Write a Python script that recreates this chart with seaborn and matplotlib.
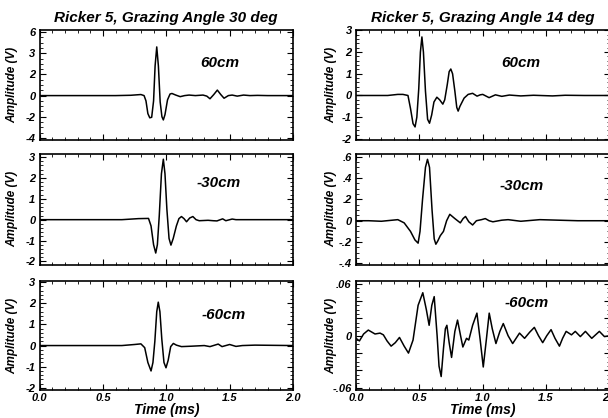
import matplotlib
matplotlib.use("Agg")
import matplotlib.pyplot as plt
from matplotlib.ticker import MultipleLocator, FixedLocator, FixedFormatter
import seaborn as sns

sns.set_style("ticks")
plt.rcParams["font.family"] = ["Liberation Sans", "DejaVu Sans"]
plt.rcParams["font.weight"] = "bold"
plt.rcParams["font.style"] = "italic"
plt.rcParams["text.color"] = "black"
plt.rcParams["axes.labelcolor"] = "black"

# ---- traces (time in ms, amplitude in V) ----
t_30_60 = [0.0, 0.60, 0.72, 0.80, 0.825, 0.84, 0.855, 0.87, 0.885, 0.90, 0.912, 0.925, 0.938,
           0.952, 0.966, 0.977, 0.99, 1.01, 1.03, 1.045, 1.075, 1.11, 1.145, 1.18, 1.23, 1.29,
           1.32, 1.345, 1.375, 1.403, 1.43, 1.456, 1.49, 1.52, 1.56, 1.61, 1.66, 1.72, 1.80, 2.0]
a_30_60 = [0.0, 0.0, 0.03, 0.1, 0.0, -0.5, -1.7, -2.1, -2.05, -0.5, 2.8, 4.6, 2.8,
           -0.6, -2.0, -2.3, -1.8, -0.4, 0.15, 0.2, 0.05, -0.1, 0.0, 0.05, 0.0, 0.05,
           -0.05, -0.3, 0.1, 0.52, 0.1, -0.25, 0.0, 0.05, -0.05, 0.05, 0.0, 0.02, 0.0, 0.0]

t_30_m30 = [0.0, 0.65, 0.78, 0.86, 0.88, 0.90, 0.917, 0.93, 0.945, 0.962, 0.977, 0.99, 1.005,
            1.022, 1.037, 1.055, 1.08, 1.10, 1.12, 1.14, 1.16, 1.185, 1.21, 1.235, 1.26, 1.33,
            1.37, 1.40, 1.445, 1.47, 1.52, 1.55, 2.0]
a_30_m30 = [0.0, 0.0, 0.05, 0.06, -0.3, -1.2, -1.6, -1.2, 0.2, 2.2, 2.9, 2.2, 0.5,
            -0.9, -1.22, -0.9, -0.3, 0.05, 0.15, 0.05, -0.1, 0.08, 0.15, 0.0, -0.05, -0.03,
            -0.05, -0.06, 0.04, -0.05, 0.03, 0.0, 0.0]

t_30_m60 = [0.0, 0.65, 0.75, 0.80, 0.83, 0.855, 0.88, 0.895, 0.91, 0.925, 0.937, 0.95, 0.965,
            0.982, 0.998, 1.015, 1.035, 1.056, 1.08, 1.12, 1.20, 1.30, 1.345, 1.41, 1.44, 1.50,
            1.55, 1.60, 1.70, 2.0]
a_30_m60 = [0.0, 0.0, 0.05, 0.08, -0.1, -0.8, -1.2, -0.8, 0.2, 1.6, 2.05, 1.6, 0.3,
            -0.8, -1.05, -0.7, -0.05, 0.1, 0.02, -0.05, -0.03, 0.0, -0.05, 0.07, -0.05, 0.05,
            -0.04, 0.0, 0.02, 0.0]

t_14_60 = [0.0, 0.25, 0.33, 0.37, 0.41, 0.43, 0.45, 0.466, 0.48, 0.495, 0.508, 0.52, 0.532,
           0.548, 0.565, 0.58, 0.597, 0.615, 0.638, 0.66, 0.685, 0.70, 0.72, 0.735, 0.748, 0.762,
           0.78, 0.795, 0.806, 0.82, 0.853, 0.885, 0.92, 0.955, 0.98, 1.0, 1.05, 1.10, 1.15,
           1.21, 1.30, 1.40, 1.55, 1.65, 1.80, 2.0]
a_14_60 = [0.0, 0.0, 0.05, 0.05, 0.0, -0.6, -1.3, -1.45, -1.0, 0.3, 2.0, 2.7, 2.0,
           0.2, -1.1, -1.28, -0.9, -0.3, -0.08, -0.2, -0.4, -0.2, 0.5, 1.1, 1.22, 1.0,
           0.2, -0.55, -0.72, -0.5, -0.12, 0.05, 0.1, -0.03, 0.03, 0.05, -0.1, 0.03, -0.04,
           0.02, -0.02, 0.01, -0.02, 0.01, 0.0, 0.0]

t_14_m30 = [0.0, 0.10, 0.20, 0.33, 0.38, 0.43, 0.465, 0.49, 0.505, 0.525, 0.548, 0.564, 0.58,
            0.60, 0.617, 0.63, 0.645, 0.665, 0.69, 0.715, 0.74, 0.78, 0.823, 0.845, 0.864, 0.89,
            0.92, 0.95, 0.99, 1.02, 1.05, 1.08, 1.15, 1.20, 1.30, 1.45, 1.60, 1.75, 2.0]
a_14_m30 = [0.0, 0.0, -0.005, 0.01, -0.02, -0.1, -0.18, -0.21, -0.1, 0.2, 0.5, 0.575, 0.5,
            0.1, -0.17, -0.22, -0.19, -0.14, -0.1, 0.0, 0.06, 0.02, -0.02, 0.02, 0.04, -0.01,
            -0.04, 0.0, 0.01, 0.02, 0.0, -0.01, 0.005, 0.01, -0.005, 0.01, 0.005, 0.0, 0.0]

t_14_m60 = [0.0, 0.027, 0.06, 0.097, 0.15, 0.19, 0.216, 0.245, 0.277, 0.31, 0.343, 0.38, 0.414,
            0.45, 0.49, 0.527, 0.555, 0.577, 0.598, 0.617, 0.64, 0.655, 0.672, 0.69, 0.705, 0.717,
            0.735, 0.754, 0.78, 0.801, 0.825, 0.843, 0.872, 0.89, 0.92, 0.954, 0.98, 1.004,
            1.028, 1.051, 1.075, 1.104, 1.135, 1.162, 1.20, 1.236, 1.29, 1.33, 1.37, 1.407, 1.44,
            1.473, 1.505, 1.539, 1.57, 1.605, 1.63, 1.658, 1.70, 1.73, 1.77, 1.81, 1.86, 1.92,
            1.96, 2.0]
a_14_m60 = [-0.003, -0.006, 0.002, 0.0065, 0.002, 0.003, 0.001, -0.006, -0.012, -0.008, -0.002,
            -0.012, -0.020, -0.005, 0.035, 0.0495, 0.03, 0.012, 0.035, 0.045, 0.0, -0.035, -0.047,
            -0.015, 0.008, 0.012, -0.008, -0.025, 0.005, 0.018, 0.0, -0.013, -0.003, -0.005,
            0.012, 0.026, -0.005, -0.036, -0.005, 0.026, 0.008, -0.009, 0.005, 0.014, 0.0,
            -0.009, 0.003, -0.003, 0.004, 0.0096, 0.0, -0.008, 0.0, 0.007, -0.003, -0.012, -0.003,
            0.005, 0.001, 0.005, -0.001, 0.005, -0.003, 0.005, -0.001, 0.0]

titles = ["Ricker 5, Grazing Angle 30 deg", "Ricker 5, Grazing Angle 14 deg"]
depth_labels = [["60cm", "-30cm", "-60cm"], ["60cm", "-30cm", "-60cm"]]
x_ticks = [0.0, 0.5, 1.0, 1.5, 2.0]
x_ticklabels = ["0.0", "0.5", "1.0", "1.5", "2.0"]

# per-panel y tick positions and labels
yt_30_60 = [-4, -2, 0, 2, 4, 6]
yl_30_60 = ["-4", "-2", "0", "2", "3", "6"]
yt_int = [-2, -1, 0, 1, 2, 3]
yl_int = ["-2", "-1", "0", "1", "2", "3"]
yt_14_m30 = [-0.4, -0.2, 0.0, 0.2, 0.4, 0.6]
yl_14_m30 = ["-.4", "-.2", "0", ".2", ".4", ".6"]
yt_14_m60 = [-0.06, -0.04, -0.02, 0.0, 0.02, 0.04, 0.06]
yl_14_m60 = ["-.06", "", "", "0", "", "", ".06"]

panels = [
    # column 0
    [(t_30_60, a_30_60, (-4.15, 6.2), yt_30_60, yl_30_60, 0.5, (0.712, 0.70)),
     (t_30_m30, a_30_m30, (-2.15, 3.15), yt_int, yl_int, 0.2, (0.706, 0.735)),
     (t_30_m60, a_30_m60, (-2.1, 3.05), yt_int, yl_int, 0.2, (0.728, 0.69))],
    # column 1
    [(t_14_60, a_14_60, (-2.03, 3.02), yt_int, yl_int, 0.2, (0.652, 0.70)),
     (t_14_m30, a_14_m30, (-0.41, 0.625), yt_14_m30, yl_14_m30, 0.05, (0.654, 0.71)),
     (t_14_m60, a_14_m60, (-0.0625, 0.063), yt_14_m60, yl_14_m60, 0.005, (0.674, 0.80))],
]

fig = plt.figure(figsize=(6.08, 4.18), dpi=100)
col_x = [39.5 / 608, 356 / 608]
col_w = [253.5 / 608, 253.5 / 608]
rows_px = [(30, 139.5), (154, 264.5), (281, 390)]
ylabel_x = [-0.085, -0.075]

for c in range(2):
    for r in range(3):
        t, a, ylim, yt, yl, yminor, txtpos = panels[c][r]
        top, bot = rows_px[r]
        ax = fig.add_axes([col_x[c], 1 - bot / 418, col_w[c], (bot - top) / 418])
        sns.lineplot(x=t, y=a, ax=ax, color="black", linewidth=1.1,
                     estimator=None, sort=False)
        for ln in ax.get_lines():
            ln.set_solid_joinstyle("round")
        ax.set_xlim(0, 2.0)
        ax.set_ylim(*ylim)
        ax.xaxis.set_major_locator(FixedLocator(x_ticks))
        ax.xaxis.set_minor_locator(MultipleLocator(0.1))
        ax.yaxis.set_major_locator(FixedLocator(yt))
        ax.yaxis.set_major_formatter(FixedFormatter(yl))
        ax.yaxis.set_minor_locator(MultipleLocator(yminor))
        ax.tick_params(which="both", direction="in", top=True, right=True,
                       colors="black", labelcolor="black", labelsize=8)
        ax.tick_params(axis="y", pad=3)
        ax.tick_params(axis="x", pad=2)
        ax.tick_params(which="major", length=4, width=0.8)
        ax.tick_params(which="minor", length=2, width=0.6)
        for s in ax.spines.values():
            s.set_linewidth(1.2)
            s.set_color("black")
        for lab in ax.get_yticklabels():
            lab.set_fontweight("bold")
            lab.set_fontstyle("italic")
        if r == 2:
            ax.set_xticklabels(x_ticklabels, fontsize=8, fontweight="bold", fontstyle="italic")
            ax.set_xlabel("Time (ms)", fontsize=10, fontweight="bold", fontstyle="italic",
                          labelpad=0)
        else:
            ax.set_xticklabels([])
            ax.set_xlabel("")
        ax.set_ylabel("Amplitude (V)", fontsize=8.5, fontweight="bold", fontstyle="italic")
        ax.yaxis.set_label_coords(ylabel_x[c], 0.5)
        ax.text(txtpos[0], txtpos[1], depth_labels[c][r], transform=ax.transAxes,
                ha="center", va="center", fontsize=11, fontweight="bold", fontstyle="italic")
        if r == 0:
            ax.set_title(titles[c], fontsize=11, fontweight="bold", fontstyle="italic", pad=6)

fig.savefig("out.png", dpi=100)
